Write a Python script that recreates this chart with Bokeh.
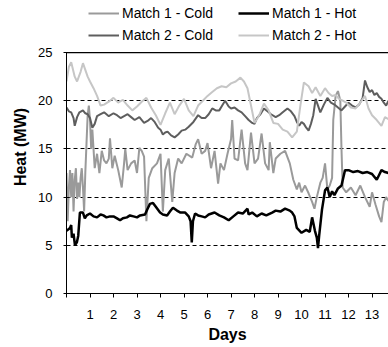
from bokeh.plotting import figure
from bokeh.models import Range1d, FixedTicker, Span, Legend, LegendItem
from bokeh.embed import file_html
from bokeh.resources import INLINE

# ---- data ----
m1_cold_day = [0, 0.05, 0.1, 0.15, 0.2, 0.25, 0.3, 0.35, 0.4, 0.45, 0.5, 0.55, 0.6, 0.65, 0.7, 0.75,
               0.8, 0.85, 0.9, 0.95, 1.0, 1.05, 1.1, 1.2, 1.3, 1.4, 1.5, 1.6, 1.7, 1.8, 1.85, 1.95,
               2.05, 2.2, 2.35, 2.45, 2.5, 2.6, 2.75, 2.9, 3.0, 3.1, 3.2, 3.3, 3.4, 3.5, 3.65, 3.85,
               4.0, 4.1, 4.2, 4.35, 4.5, 4.6, 4.75, 4.9, 5.1, 5.35, 5.5, 5.6, 5.75, 5.9, 6.0, 6.15,
               6.3, 6.45, 6.55, 6.7, 6.85, 7.0, 7.05, 7.15, 7.3, 7.45, 7.6, 7.7, 7.85, 8.0, 8.15, 8.3,
               8.45, 8.6, 8.65, 8.8, 8.9, 9.1, 9.3, 9.5, 9.65, 9.8, 9.9, 10.0, 10.15, 10.3, 10.45,
               10.55, 10.65, 10.8, 10.9, 11.0, 11.1, 11.2, 11.3, 11.35, 11.45, 11.55, 11.65, 11.7,
               11.75, 11.9, 12.1, 12.3, 12.5, 12.7, 12.9, 13.0, 13.15, 13.3, 13.4, 13.5, 13.6, 13.7]
m1_cold = [12.5, 7.5, 11.0, 12.8, 10.0, 12.5, 8.5, 11.8, 13.0, 9.8, 11.5, 10.0, 12.0, 13.0, 11.0, 8.5,
           12.5, 15.5, 18.5, 19.5, 18.0, 15.0, 17.0, 13.0, 14.5, 12.5, 14.8, 13.8, 13.5, 14.0, 16.1, 13.0,
           14.3, 12.8, 11.0, 13.5, 15.0, 12.8, 13.5, 13.8, 12.5, 15.1, 14.8, 14.2, 7.5, 12.0, 13.0, 13.5,
           14.5, 8.5, 12.8, 14.0, 9.5, 12.5, 14.0, 13.5, 14.5, 14.1, 15.5, 16.0, 14.5, 14.8, 15.6, 13.0,
           14.8, 11.4, 13.5, 12.8, 14.5, 16.0, 18.0, 14.0, 13.8, 17.0, 13.5, 12.8, 16.7, 13.5, 14.0, 16.6,
           13.5, 12.8, 15.7, 12.5, 14.0, 14.5, 14.8, 13.5, 11.8, 10.8, 11.5, 10.5, 11.2, 10.4, 9.5,
           8.8, 10.0, 11.5, 12.0, 13.5, 10.8, 11.2, 12.0, 18.0, 20.5, 21.0, 20.0, 15.0,
           11.0, 10.5, 11.0, 10.2, 11.2, 10.0, 9.0, 10.5, 9.2, 8.0, 7.4, 9.5, 10.0, 9.6]

m1_hot_day = [0, 0.15, 0.2, 0.23, 0.3, 0.36, 0.44, 0.5, 0.57, 0.7, 0.78, 0.86, 1.0, 1.15, 1.3, 1.45,
              1.57, 1.7, 1.85, 2.0, 2.15, 2.28, 2.4, 2.57, 2.7, 2.85, 3.0, 3.13, 3.34, 3.45, 3.55, 3.68,
              3.8, 3.98, 4.1, 4.28, 4.4, 4.53, 4.7, 4.85, 5.05, 5.2, 5.28, 5.33, 5.38, 5.47, 5.6, 5.75,
              5.9, 6.05, 6.3, 6.5, 6.7, 6.9, 7.1, 7.3, 7.5, 7.7, 7.75, 7.9, 8.1, 8.3, 8.5, 8.75, 8.9,
              9.1, 9.3, 9.5, 9.6, 9.7, 9.8, 10.0, 10.2, 10.35, 10.45, 10.57, 10.65, 10.7, 10.75, 10.87,
              11.0, 11.1, 11.2, 11.3, 11.4, 11.55, 11.7, 11.85, 12.0, 12.2, 12.4, 12.6, 12.8, 13.0,
              13.2, 13.3, 13.4, 13.55, 13.7]
m1_hot = [6.5, 6.8, 7.1, 5.8, 6.2, 5.0, 5.3, 6.0, 8.4, 8.4, 7.8, 8.1, 8.3, 8.0, 7.9, 8.2,
          8.1, 7.9, 8.0, 8.0, 7.8, 7.6, 7.8, 7.9, 8.1, 8.0, 7.9, 8.1, 8.2, 8.8, 9.3, 9.4,
          9.0, 8.4, 8.2, 8.1, 8.5, 8.9, 8.6, 8.4, 8.4, 8.0, 7.5, 5.3, 7.5, 8.3, 8.1, 8.0,
          7.9, 8.2, 8.4, 8.1, 7.9, 7.6, 8.0, 8.4, 8.3, 8.8, 8.2, 8.4, 8.0, 8.3, 8.1, 8.4, 8.6,
          8.5, 8.8, 8.6, 8.4, 8.0, 6.8, 6.3, 6.6, 6.4, 7.9, 6.5, 5.8, 4.7, 6.0, 8.7,
          10.7, 11.0, 10.0, 10.6, 10.2, 10.9, 11.2, 12.8, 12.8, 12.6, 12.7, 12.5, 12.6, 12.4,
          11.8, 12.3, 12.8, 12.6, 12.5]

m2_cold_day = [0, 0.1, 0.2, 0.3, 0.35, 0.45, 0.55, 0.7, 0.8, 0.9, 1.0, 1.1, 1.2, 1.3, 1.45, 1.6,
               1.8, 2.0, 2.15, 2.3, 2.45, 2.6, 2.75, 2.9, 3.1, 3.3, 3.45, 3.6, 3.75, 3.9, 4.0, 4.1,
               4.2, 4.3, 4.45, 4.6, 4.75, 4.9, 5.05, 5.2, 5.4, 5.6, 5.75, 5.9, 6.05, 6.2, 6.35, 6.5,
               6.65, 6.75, 6.9, 7.0, 7.15, 7.3, 7.45, 7.6, 7.75, 7.9, 8.0, 8.1, 8.25, 8.4, 8.55, 8.7,
               8.9, 9.05, 9.2, 9.4, 9.55, 9.7, 9.8, 9.9, 10.0, 10.1, 10.2, 10.3, 10.4, 10.5, 10.6,
               10.7, 10.8, 10.95, 11.1, 11.25, 11.4, 11.55, 11.7, 11.85, 12.0, 12.15, 12.3, 12.45,
               12.6, 12.7, 12.8, 12.9, 13.0, 13.1, 13.2, 13.3, 13.4, 13.5, 13.6, 13.7]
m2_cold = [19.3, 18.9, 18.8, 18.2, 17.4, 18.3, 18.8, 19.0, 18.7, 18.6, 18.2, 17.2, 17.6, 18.4, 18.6, 18.8,
           18.4, 18.7, 18.5, 18.2, 18.4, 18.6, 18.3, 18.0, 18.3, 17.7, 17.9, 18.2, 17.8, 17.2, 17.0, 16.5,
           16.7, 16.8, 16.4, 16.2, 16.5, 16.9, 17.0, 17.3, 17.8, 18.5, 18.2, 18.2, 18.6, 19.2, 19.0, 19.0,
           19.6, 20.0, 19.4, 19.2, 19.3, 19.0, 18.8, 18.4, 18.0, 17.7, 17.6, 18.2, 18.6, 19.2, 18.9, 18.6,
           18.3, 18.5, 18.8, 19.2, 18.9, 18.4, 17.8, 17.4, 17.8, 17.6, 17.2, 16.9, 17.6, 18.5, 20.2,
           19.5, 18.8, 19.6, 20.3, 19.8, 19.6, 19.3, 19.0, 19.4, 19.8, 19.5, 19.3, 19.6,
           20.3, 22.1, 21.4, 20.9, 21.1, 20.6, 20.8, 20.4, 20.2, 19.8, 19.5, 20.0]

m2_hot_day = [0, 0.1, 0.2, 0.35, 0.45, 0.6, 0.7, 0.8, 0.9, 1.0, 1.15, 1.3, 1.45, 1.6, 1.8, 2.0,
              2.2, 2.4, 2.6, 2.8, 3.0, 3.2, 3.4, 3.6, 3.8, 4.0, 4.2, 4.4, 4.6, 4.8, 5.0, 5.2, 5.4,
              5.6, 5.8, 6.0, 6.2, 6.4, 6.6, 6.8, 7.0, 7.2, 7.4, 7.55, 7.7, 7.85, 8.0, 8.2, 8.4, 8.6,
              8.8, 9.0, 9.2, 9.4, 9.6, 9.8, 9.95, 10.1, 10.3, 10.45, 10.6, 10.8, 11.0, 11.15, 11.3,
              11.45, 11.6, 11.75, 11.9, 12.1, 12.3, 12.5, 12.7, 12.85, 13.0, 13.2, 13.4, 13.55, 13.7]
m2_hot = [22.0, 23.5, 24.0, 22.5, 22.0, 23.0, 23.9, 23.2, 22.5, 22.0, 21.3, 20.5, 19.5, 19.6, 19.9, 20.3,
          19.8, 20.1, 19.5, 19.0, 19.4, 19.9, 20.3, 19.3, 18.5, 17.5, 18.7, 19.8, 18.6, 19.5, 20.2, 19.0, 18.4,
          19.5, 20.0, 20.5, 20.9, 21.3, 21.5, 21.4, 21.8, 22.0, 22.4, 22.0, 21.3, 19.5, 17.7, 18.5, 19.7, 19.0,
          17.7, 17.6, 17.0, 16.8, 16.2, 16.8, 19.5, 21.9, 21.5, 20.8, 21.4, 20.5, 21.3, 20.8, 20.5,
          20.6, 20.2, 20.0, 19.8, 19.3, 19.2, 19.8, 20.5, 19.2, 18.5, 18.0, 17.4, 18.3, 18.1]

y_ticks = [0, 5, 10, 15, 20, 25]
grid_levels = [5, 10, 15, 20]
day_ticks = list(range(0, 14))
series_labels = ["Match 1 - Cold", "Match 1 - Hot", "Match 2 - Cold", "Match 2 - Hot"]

FONT = "Liberation Sans"

# frame spans the full height above the x axis; the value axis only covers 0..25,
# the strip above 25 holds the legend
p = figure(width=388, height=347, output_backend="svg", toolbar_location=None,
           x_range=Range1d(0, 13.7), y_range=Range1d(0, 30.4),
           min_border_left=66, min_border_right=0, min_border_top=0, min_border_bottom=54)
p.outline_line_color = None
p.background_fill_color = "white"
p.border_fill_color = "white"

p.xgrid.visible = False
p.ygrid.ticker = FixedTicker(ticks=grid_levels)
p.ygrid.grid_line_color = "black"
p.ygrid.grid_line_dash = "4 3"
p.ygrid.grid_line_width = 1
p.add_layout(Span(location=25, dimension="width", line_color="black", line_width=1.2))

r1 = p.line(m1_cold_day, m1_cold, line_color="#9a9a9a", line_width=2)
r3 = p.line(m2_cold_day, m2_cold, line_color="#5e5e5e", line_width=2)
r4 = p.line(m2_hot_day, m2_hot, line_color="#c6c6c6", line_width=2)
r2 = p.line(m1_hot_day, m1_hot, line_color="black", line_width=2.5)

# axes
p.yaxis.bounds = (0, 25)
p.yaxis.ticker = FixedTicker(ticks=y_ticks)
p.yaxis.major_tick_in = 3
p.yaxis.major_tick_out = 3
p.yaxis.minor_tick_line_color = None
p.yaxis.major_label_standoff = 11
p.yaxis.major_label_text_font = FONT
p.yaxis.major_label_text_font_size = "13px"
p.yaxis.major_label_text_color = "black"
p.yaxis.axis_line_color = "black"
p.yaxis.major_tick_line_color = "black"
p.yaxis.axis_label = "Heat (MW)"
p.yaxis.axis_label_text_font = FONT
p.yaxis.axis_label_text_font_style = "bold"
p.yaxis.axis_label_text_font_size = "16px"
p.yaxis.axis_label_text_color = "black"
p.yaxis.axis_label_standoff = 6

p.xaxis.ticker = FixedTicker(ticks=day_ticks)
p.xaxis.major_label_overrides = {0: ""}
p.xaxis.major_tick_in = 0
p.xaxis.major_tick_out = 4
p.xaxis.minor_tick_line_color = None
p.xaxis.major_label_standoff = 12
p.xaxis.major_label_text_font = FONT
p.xaxis.major_label_text_font_size = "13px"
p.xaxis.major_label_text_color = "black"
p.xaxis.axis_line_color = "black"
p.xaxis.major_tick_line_color = "black"
p.xaxis.axis_label = "Days"
p.xaxis.axis_label_text_font = FONT
p.xaxis.axis_label_text_font_style = "bold"
p.xaxis.axis_label_text_font_size = "16px"
p.xaxis.axis_label_text_color = "black"
p.xaxis.axis_label_standoff = 4

def make_legend(items, loc):
    return Legend(items=items, orientation="horizontal", location=loc,
                  spacing=25, glyph_width=31, glyph_height=12, label_standoff=3,
                  padding=0, margin=0, border_line_color=None, background_fill_alpha=0,
                  label_text_font=FONT, label_text_font_size="14px", label_text_color="black",
                  label_height=12)

leg1 = make_legend([LegendItem(label=series_labels[0], renderers=[r1]),
                    LegendItem(label=series_labels[1], renderers=[r2])], (22, 272))
leg2 = make_legend([LegendItem(label=series_labels[2], renderers=[r3]),
                    LegendItem(label=series_labels[3], renderers=[r4])], (22, 250))
p.add_layout(leg1, "center")
p.add_layout(leg2, "center")

open("out.html", "w").write(file_html(p, INLINE))
